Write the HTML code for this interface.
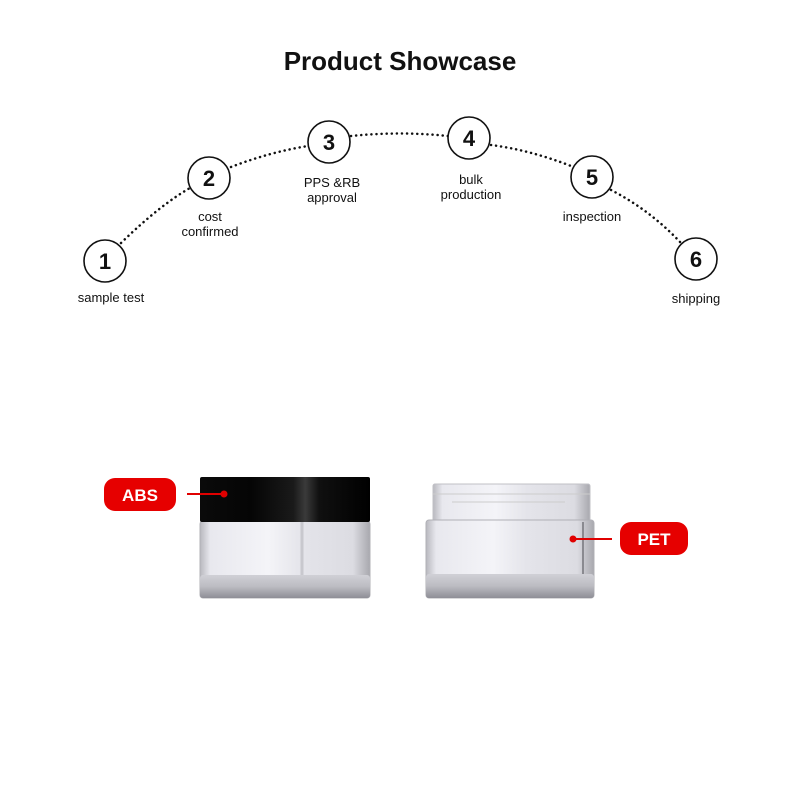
<!DOCTYPE html>
<html><head><meta charset="utf-8"><style>
html,body{margin:0;padding:0;background:#fff;}
svg{display:block}
text{font-family:"Liberation Sans",Arial,sans-serif;}
</style></head><body>
<svg width="800" height="800" viewBox="0 0 800 800" xmlns="http://www.w3.org/2000/svg">
<defs>
<linearGradient id="cap" x1="0" x2="1" y1="0" y2="0">
<stop offset="0" stop-color="#0a0a0a"/><stop offset="0.3" stop-color="#050505"/><stop offset="0.55" stop-color="#1a1a1a"/><stop offset="0.62" stop-color="#3a3a3a"/><stop offset="0.7" stop-color="#101010"/><stop offset="1" stop-color="#000"/>
</linearGradient>
<linearGradient id="body" x1="0" x2="1" y1="0" y2="0">
<stop offset="0" stop-color="#b8b8be"/><stop offset="0.06" stop-color="#e8e8ee"/><stop offset="0.4" stop-color="#f4f4f8"/><stop offset="0.6" stop-color="#e4e4ea"/><stop offset="0.9" stop-color="#dcdce2"/><stop offset="1" stop-color="#a8a8ae"/>
</linearGradient>
<linearGradient id="base" x1="0" x2="0" y1="0" y2="1">
<stop offset="0" stop-color="#d0d0d6"/><stop offset="0.5" stop-color="#bcbcc2"/><stop offset="1" stop-color="#8e8e96"/>
</linearGradient>
</defs>
<text x="400" y="70" font-size="26" font-weight="bold" text-anchor="middle" fill="#111">Product Showcase</text>
<g fill="none" stroke="#111" stroke-width="2.5" stroke-dasharray="0.1 5" stroke-linecap="round">
<path d="M121 243 Q160 205 190 188"/>
<path d="M231 167 Q270 152 308 146"/>
<path d="M351 136 Q400 131 448 136"/>
<path d="M491 145 Q530 150 571 166"/>
<path d="M611 190 Q650 210 681 243"/>
</g>
<g fill="#fff" stroke="#111" stroke-width="1.6">
<circle cx="105" cy="261" r="21"/><circle cx="209" cy="178" r="21"/><circle cx="329" cy="142" r="21"/>
<circle cx="469" cy="138" r="21"/><circle cx="592" cy="177" r="21"/><circle cx="696" cy="259" r="21"/>
</g>
<g font-size="22" font-weight="bold" text-anchor="middle" fill="#111">
<text x="105" y="269">1</text><text x="209" y="186">2</text><text x="329" y="150">3</text>
<text x="469" y="146">4</text><text x="592" y="185">5</text><text x="696" y="267">6</text>
</g>
<g font-size="13" text-anchor="middle" fill="#111">
<text x="111" y="302">sample test</text>
<text x="210" y="221">cost</text><text x="210" y="236">confirmed</text>
<text x="332" y="187">PPS &amp;RB</text><text x="332" y="202">approval</text>
<text x="471" y="184">bulk</text><text x="471" y="199">production</text>
<text x="592" y="221">inspection</text>
<text x="696" y="303">shipping</text>
</g>
<!-- ABS jar -->
<rect x="200" y="521" width="170" height="77" rx="3" fill="url(#body)" stroke="#b0b0b6" stroke-width="1"/>
<line x1="302" y1="522" x2="302" y2="596" stroke="#c8c8ce" stroke-width="3"/>
<rect x="200" y="575" width="170" height="23" rx="3" fill="url(#base)"/>
<rect x="200" y="477" width="170" height="45" rx="2" fill="url(#cap)"/>
<rect x="104" y="478" width="72" height="33" rx="11" fill="#e60000"/>
<text x="140" y="501" font-size="17" font-weight="bold" text-anchor="middle" fill="#fff">ABS</text>
<line x1="187" y1="494" x2="224" y2="494" stroke="#e00000" stroke-width="2"/>
<circle cx="224" cy="494" r="3.5" fill="#e00000"/>
<!-- PET jar -->
<rect x="433" y="484" width="157" height="37" rx="2" fill="url(#body)" stroke="#c0c0c6" stroke-width="1"/>
<line x1="433" y1="494" x2="590" y2="494" stroke="#ccc" stroke-width="1"/>
<line x1="452" y1="502" x2="565" y2="502" stroke="#ccc" stroke-width="1"/>
<rect x="426" y="520" width="168" height="78" rx="3" fill="url(#body)" stroke="#b0b0b6" stroke-width="1"/>
<line x1="583" y1="522" x2="583" y2="574" stroke="#8a8a90" stroke-width="2"/>
<rect x="426" y="574" width="168" height="24" rx="3" fill="url(#base)"/>
<rect x="620" y="522" width="68" height="33" rx="11" fill="#e60000"/>
<text x="654" y="545" font-size="17" font-weight="bold" text-anchor="middle" fill="#fff">PET</text>
<line x1="573" y1="539" x2="612" y2="539" stroke="#e00000" stroke-width="2"/>
<circle cx="573" cy="539" r="3.5" fill="#e00000"/>
</svg>
</body></html>
